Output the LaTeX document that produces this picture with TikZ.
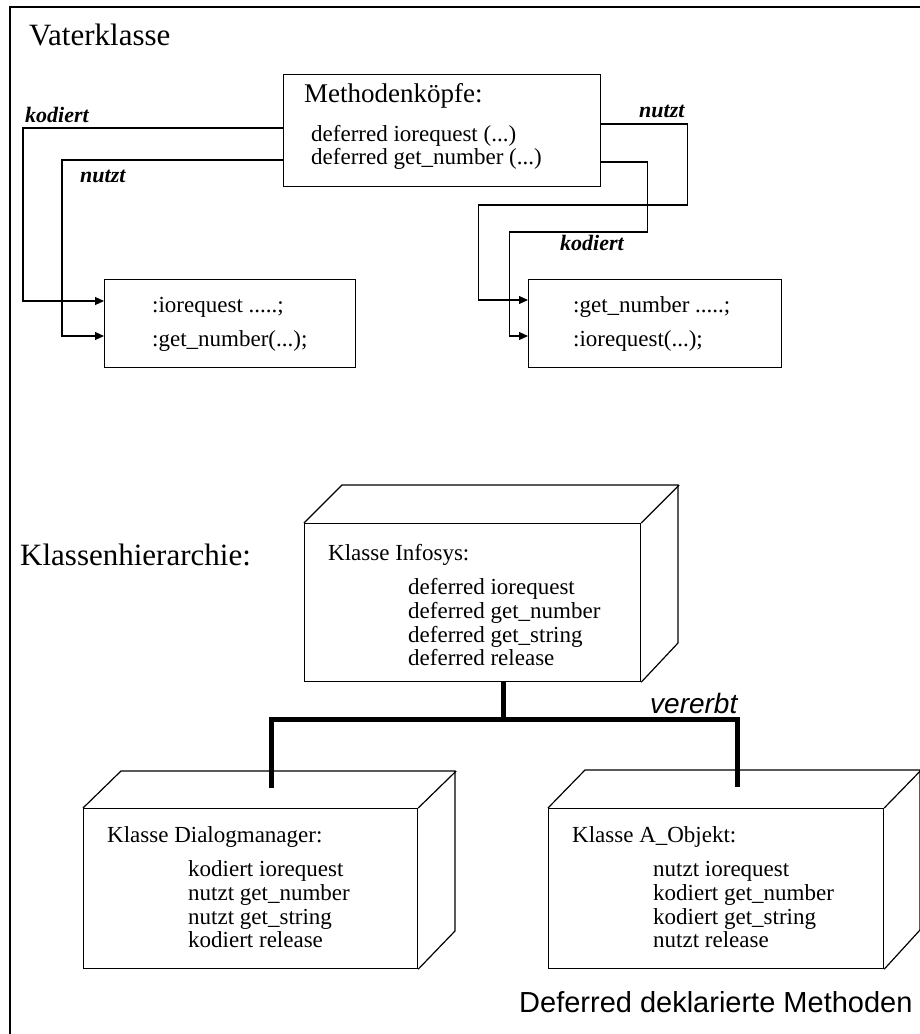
\documentclass[tikz,border=0pt]{standalone}
\usepackage{fontspec}
\setmainfont{Liberation Serif}
\newfontfamily\sansfam{Liberation Sans}
\usetikzlibrary{arrows.meta,calc}
\begin{document}
\begin{tikzpicture}[x=1pt,y=-1pt,
  thinln/.style={line width=1.2pt},
  box/.style={draw,line width=1.2pt,rectangle,inner sep=0pt,anchor=north west},
  conn/.style={line width=1.1pt},
  arr/.style={conn,-{Triangle[length=9pt,width=8pt]}},
  txt/.style={inner sep=0pt,anchor=base west,font=\fontsize{23}{23}\selectfont},
  lab/.style={inner sep=0pt,anchor=base west,font=\fontsize{22}{22}\selectfont\bfseries\itshape},
  head/.style={inner sep=0pt,anchor=base west,font=\fontsize{31}{31}\selectfont},
  inh/.style={line width=5pt},
  frame/.style={line width=2pt}]
\useasboundingbox (0,0) rectangle (920,1034);
% outer frame
\draw[frame] (10,1034) -- (10,7) -- (920,7);
\node[head] (vater) at (29,45) {Vaterklasse};
% Methodenkoepfe
\node[box,minimum width=317pt,minimum height=112pt] (mk) at (283,74) {};
\node[inner sep=0pt,anchor=base west,font=\fontsize{27}{27}\selectfont] (mkt) at (304,102) {Methodenköpfe:};
\node[txt] (mk1) at (311,141) {deferred iorequest (...)};
\node[txt] (mk2) at (311,164) {deferred get\_number (...)};
% lower boxes
\node[box,minimum width=251pt,minimum height=88pt] (lb) at (104,279) {};
\node[txt] (lb1) at (152,312) {:iorequest .....;};
\node[txt] (lb2) at (152,346) {:get\_number(...);};
\node[box,minimum width=253pt,minimum height=88pt] (rb) at (528,279) {};
\node[txt] (rb1) at (573,312) {:get\_number .....;};
\node[txt] (rb2) at (573,346) {:iorequest(...);};
% connectors left
\draw[arr] ([yshift=-54pt]mk.north west) -- ++(-260,0) |- ([yshift=-22pt]lb.north west);
\draw[arr] ([yshift=-86pt]mk.north west) -- ++(-221,0) |- ([yshift=-57pt]lb.north west);
\node[lab] (lk) at (25,122) {kodiert};
\node[lab] (ln) at (80,182) {nutzt};
% connectors right
\draw[arr] ([yshift=-50pt]mk.north east) -- ++(86,0) -- ++(0,81) -- ++(-209,0) |- ([yshift=-21pt]rb.north west);
\draw[arr] ([yshift=-88pt]mk.north east) -- ++(46,0) -- ++(0,70) -- ++(-138,0) |- ([yshift=-57pt]rb.north west);
\node[lab] (rn) at (639,117) {nutzt};
\node[lab] (rk) at (560,250) {kodiert};
% Klassenhierarchie
\node[head] (kh) at (20,565) {Klassenhierarchie:};
% Infosys
\node[box,minimum width=336pt,minimum height=158pt] (info) at (304,523) {};
\draw[thinln] (info.north west) -- ++(38,-38) -- ++(336,0) -- ++(0,158) -- (info.south east);
\draw[thinln] (info.north east) -- ++(38,-38);
\node[txt] (infot) at (328,560) {Klasse Infosys:};
\foreach \t [count=\i] in {deferred iorequest,deferred get\_number,deferred get\_string,deferred release}
  \node[txt] (info\i) at (408,{571+23.7*\i}) {\t};
% Dialogmanager
\node[box,minimum width=334pt,minimum height=160pt] (dm) at (83,808) {};
\draw[thinln] (dm.north west) -- ++(38,-37) -- ++(334,0) -- ++(0,160) -- (dm.south east);
\draw[thinln] (dm.north east) -- ++(38,-37);
\node[txt] (dmt) at (107,842) {Klasse Dialogmanager:};
\foreach \t [count=\i] in {kodiert iorequest,nutzt get\_number,nutzt get\_string,kodiert release}
  \node[txt] (dm\i) at (188,{853+23.7*\i}) {\t};
% A_Objekt
\node[box,minimum width=335pt,minimum height=160pt] (ao) at (548,808) {};
\draw[thinln] (ao.north west) -- ++(37,-38) -- ++(335,0) -- ++(0,160) -- (ao.south east);
\draw[thinln] (ao.north east) -- ++(37,-38);
\node[txt] (aot) at (572,842) {Klasse A\_Objekt:};
\foreach \t [count=\i] in {nutzt iorequest,kodiert get\_number,kodiert get\_string,nutzt release}
  \node[txt] (ao\i) at (653,{853+23.7*\i}) {\t};
% inheritance
\coordinate (j) at (503,719);
\coordinate (dmin) at (271,788);
\coordinate (aoin) at (737,787);
\draw[inh] (info.south -| j) -- (j);
\draw[inh] (dmin) |- (j) -| (aoin);
\node[inner sep=0pt,anchor=base west,font=\fontsize{28}{28}\selectfont\sansfam\itshape] (ver) at (650,713) {vererbt};
\node[inner sep=0pt,anchor=base west,font=\fontsize{29}{29}\selectfont\sansfam] (dd) at (519,1012) {Deferred deklarierte Methoden};
\end{tikzpicture}
\end{document}
